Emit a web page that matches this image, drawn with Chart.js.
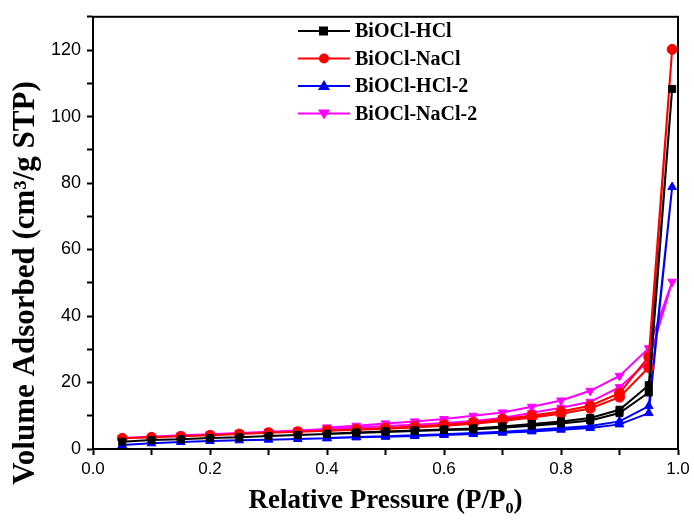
<!DOCTYPE html>
<html>
<head>
<meta charset="utf-8">
<script src="https://cdn.jsdelivr.net/npm/chart.js@4"></script>
<style>
  body { margin: 0; background: #fff; }
  #wrap { width: 694px; height: 521px; }
</style>
</head>
<body>
<div id="wrap"><canvas id="isoChart"></canvas></div>
<script>
// relative pressure, adsorption branch then desorption branch
var adsP = [0.05, 0.1, 0.15, 0.2, 0.25, 0.3, 0.35, 0.4, 0.45, 0.5, 0.55, 0.6, 0.65, 0.7, 0.75, 0.8, 0.85, 0.9, 0.95, 0.99];
var desP = [0.95, 0.9, 0.85, 0.8, 0.75, 0.7, 0.65, 0.6, 0.55, 0.5, 0.45, 0.4];

var seriesNames = ['BiOCl-HCl', 'BiOCl-NaCl', 'BiOCl-HCl-2', 'BiOCl-NaCl-2'];
var yTitle = 'Volume Adsorbed (cm\u00b3/g STP)';
var xTitle = 'Relative Pressure (P/P\u2080)';

var hclAds = [2.2, 2.7, 2.9, 3.3, 3.5, 3.9, 4.2, 4.5, 4.8, 5.1, 5.4, 5.7, 5.9, 6.4, 7.0, 7.7, 8.6, 10.8, 17.0, 108.3];
var hclDes = [19.2, 11.8, 9.3, 8.3, 7.5, 6.8, 6.2, 5.9, 5.6, 5.3, 5.0, 4.6];

var naclAds = [3.2, 3.5, 3.8, 4.1, 4.5, 4.9, 5.2, 5.5, 5.8, 6.1, 6.5, 7.0, 7.6, 8.4, 9.5, 10.6, 12.2, 15.6, 24.5, 120.2];
var naclDes = [27.8, 16.8, 13.0, 11.3, 10.1, 9.0, 8.0, 7.3, 6.8, 6.3, 5.9, 5.6];

var hcl2Ads = [1.2, 1.7, 2.1, 2.4, 2.6, 2.8, 3.0, 3.2, 3.5, 3.7, 3.9, 4.2, 4.5, 4.9, 5.3, 5.8, 6.3, 7.4, 10.8, 78.8];
var hcl2Des = [12.9, 8.3, 6.9, 6.3, 5.7, 5.2, 4.8, 4.4, 4.1, 3.8, 3.6, 3.3];

var nacl2Ads = [3.3, 3.7, 4.1, 4.4, 4.8, 5.2, 5.6, 6.0, 6.4, 6.9, 7.3, 7.8, 8.4, 9.3, 10.9, 12.4, 14.2, 18.6, 26.5, 50.3];
var nacl2Des = [30.3, 22.0, 17.5, 14.6, 12.7, 11.0, 10.0, 9.0, 8.3, 7.7, 7.0, 6.5];

function loop(ads, des) {
    var pts = adsP.map(function(p, i) { return { x: p, y: ads[i] }; });
    return pts.concat(desP.map(function(p, i) { return { x: p, y: des[i] }; }));
}

function makeSet(label, color, style, rot, ads, des) {
    return {
        label: label,
        data: loop(ads, des),
        showLine: true,
        borderColor: color,
        backgroundColor: color,
        borderWidth: 2,
        pointStyle: style,
        pointRotation: rot,
        pointRadius: 5,
        pointBorderWidth: 1,
        tension: 0
    };
}

// legend inside the plot, frame, and the y title (sits lower than centre in the original)
var innerLegend = {
    id: 'innerLegend',
    afterDraw: function(chart) {
        var ctx = chart.ctx;
        ctx.save();
        chart.data.datasets.forEach(function(ds, i) {
            var y = 31 + i * 27.5;
            ctx.strokeStyle = ds.borderColor;
            ctx.fillStyle = ds.borderColor;
            ctx.lineWidth = 2;
            ctx.beginPath();
            ctx.moveTo(298, y);
            ctx.lineTo(350, y);
            ctx.stroke();
            ctx.beginPath();
            if (ds.pointStyle === 'rect') {
                ctx.rect(319, y - 4.5, 9, 9);
            } else if (ds.pointStyle === 'circle') {
                ctx.arc(324, y, 5, 0, Math.PI * 2);
            } else if (ds.pointRotation === 180) {
                ctx.moveTo(318, y - 4);
                ctx.lineTo(330, y - 4);
                ctx.lineTo(324, y + 6);
            } else {
                ctx.moveTo(318, y + 4);
                ctx.lineTo(330, y + 4);
                ctx.lineTo(324, y - 6);
            }
            ctx.closePath();
            ctx.fill();
            ctx.fillStyle = '#000';
            ctx.font = 'bold 20px "Liberation Serif", "Times New Roman", serif';
            ctx.textAlign = 'left';
            ctx.textBaseline = 'middle';
            ctx.fillText(ds.label, 355, y + 1);
        });
        var a = chart.chartArea;
        ctx.strokeStyle = '#000';
        ctx.lineWidth = 2;
        ctx.strokeRect(a.left, a.top, a.right - a.left, a.bottom - a.top);

        ctx.translate(26, 283);
        ctx.rotate(-Math.PI / 2);
        ctx.fillStyle = '#000';
        ctx.font = 'bold 31px "Liberation Serif", "Times New Roman", serif';
        ctx.textAlign = 'center';
        ctx.textBaseline = 'middle';
        ctx.fillText(yTitle, 0, 0);
        ctx.restore();
    }
};

new Chart(document.getElementById('isoChart'), {
    type: 'scatter',
    data: {
        datasets: [
            makeSet(seriesNames[0], '#000000', 'rect', 0, hclAds, hclDes),
            makeSet(seriesNames[1], '#ff0000', 'circle', 0, naclAds, naclDes),
            makeSet(seriesNames[2], '#0000ff', 'triangle', 0, hcl2Ads, hcl2Des),
            makeSet(seriesNames[3], '#ff00ff', 'triangle', 180, nacl2Ads, nacl2Des)
        ]
    },
    options: {
        responsive: true,
        maintainAspectRatio: false,
        animation: false,
        layout: { padding: { left: 0, right: 16, top: 13, bottom: 0 } },
        plugins: { legend: { display: false }, tooltip: { enabled: false } },
        scales: {
            x: {
                type: 'linear',
                min: 0,
                max: 1,
                afterFit: function(s) { s.height = 72; },
                border: { display: true, color: '#000', width: 2 },
                grid: { drawOnChartArea: false, drawTicks: true, tickLength: 6, tickColor: '#000', tickWidth: 2 },
                ticks: {
                    stepSize: 0.1,
                    color: '#000',
                    padding: 4,
                    maxRotation: 0,
                    font: { family: '"Liberation Sans", Arial, sans-serif', size: 17 },
                    callback: function(v) {
                        var k = Math.round(v * 10);
                        return k % 2 === 0 ? (k / 10).toFixed(1) : '';
                    }
                },
                title: {
                    display: true,
                    text: xTitle,
                    color: '#000',
                    padding: { top: 3 },
                    font: { family: '"Liberation Serif", "Times New Roman", serif', size: 27, weight: 'bold' }
                }
            },
            y: {
                min: 0,
                max: 130,
                afterFit: function(s) { s.width = 93; },
                border: { display: true, color: '#000', width: 2 },
                grid: { drawOnChartArea: false, drawTicks: true, tickLength: 6, tickColor: '#000', tickWidth: 2 },
                ticks: {
                    stepSize: 10,
                    color: '#000',
                    padding: 6,
                    font: { family: '"Liberation Sans", Arial, sans-serif', size: 18 },
                    callback: function(v) { return v % 20 === 0 && v <= 120 ? v : ''; }
                },
                title: { display: false }
            }
        }
    },
    plugins: [innerLegend]
});
</script>
</body>
</html>
